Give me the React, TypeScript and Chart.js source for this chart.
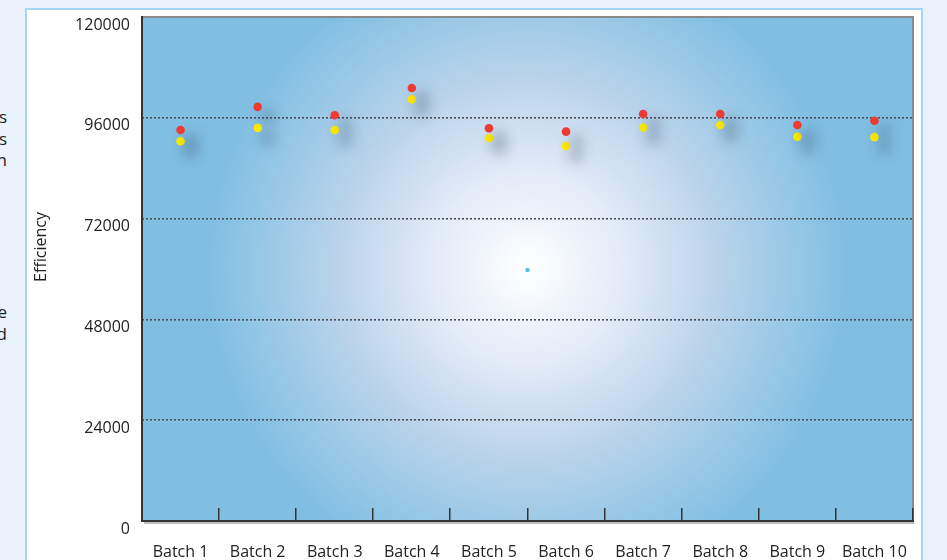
import React, { useEffect, useRef } from "react";
import { Chart, registerables } from "chart.js";

Chart.register(...registerables);

const categories = ["Batch 1", "Batch 2", "Batch 3", "Batch 4", "Batch 5", "Batch 6", "Batch 7", "Batch 8", "Batch 9", "Batch 10"];
const redSeries = [93100, 98600, 96600, 103100, 93500, 92700, 96900, 96900, 94300, 95300];
const yellowSeries = [90400, 93600, 93100, 100400, 91200, 89300, 93700, 94300, 91500, 91400];
const yTickValues = [0, 24000, 48000, 72000, 96000, 120000];
const yTitle = "Efficiency";
const sideTextTop = ["s", "s", "n"];
const sideTextBottom = ["e", "d"];

const FONT = "'Open Sans', 'Noto Sans', sans-serif";

const backgroundPlugin = {
  id: "radialBg",
  beforeDraw(chart: any) {
    const { ctx, chartArea } = chart;
    const { left, top, right, bottom } = chartArea;
    const cx = (left + right) / 2;
    const cy = (top + bottom) / 2;
    const g = ctx.createRadialGradient(cx, cy, 0, cx, cy, 320);
    g.addColorStop(0, "#ffffff");
    g.addColorStop(0.3, "#e2ebf7");
    g.addColorStop(0.6, "#b9d3eb");
    g.addColorStop(1, "#80bfe2");
    ctx.save();
    ctx.fillStyle = g;
    ctx.fillRect(left, top, right - left, bottom - top);
    // small marker at centre
    ctx.fillStyle = "#5cb8ea";
    ctx.beginPath();
    ctx.arc(cx, cy + 1, 2.2, 0, Math.PI * 2);
    ctx.fill();
    ctx.restore();
  },
  beforeDatasetsDraw(chart: any) {
    const { ctx, chartArea, scales } = chart;
    const { left, top, right, bottom } = chartArea;
    const x = scales.x;
    ctx.save();
    // y axis title
    ctx.save();
    ctx.translate(41, (top + bottom) / 2 - 22);
    ctx.rotate(-Math.PI / 2);
    ctx.font = `16px ${FONT}`;
    ctx.fillStyle = "#222";
    ctx.textAlign = "center";
    ctx.textBaseline = "middle";
    ctx.fillText(yTitle, 0, 0);
    ctx.restore();
    // bottom shadow
    ctx.strokeStyle = "rgba(0,0,0,0.25)";
    ctx.lineWidth = 2;
    ctx.beginPath();
    ctx.moveTo(left + 2, bottom + 2);
    ctx.lineTo(right + 1, bottom + 2);
    ctx.stroke();
    // top & right frame
    ctx.strokeStyle = "#8a8a8a";
    ctx.lineWidth = 2;
    ctx.beginPath();
    ctx.moveTo(left, top);
    ctx.lineTo(right, top);
    ctx.lineTo(right, bottom);
    ctx.stroke();
    // left & bottom axis
    ctx.strokeStyle = "#333333";
    ctx.beginPath();
    ctx.moveTo(left, top - 1);
    ctx.lineTo(left, bottom);
    ctx.lineTo(right + 1, bottom);
    ctx.stroke();
    // inward category ticks
    ctx.lineWidth = 1.5;
    const n = categories.length;
    for (let i = 1; i <= n; i++) {
      const p0 = x.getPixelForTick(i - 1);
      const half = i < n ? (x.getPixelForTick(i) - p0) / 2 : (x.getPixelForTick(i - 1) - x.getPixelForTick(i - 2)) / 2;
      const px = Math.round(p0 + half) - 0.25;
      ctx.beginPath();
      ctx.moveTo(px, bottom - 13);
      ctx.lineTo(px, bottom);
      ctx.stroke();
    }
    ctx.restore();
    // shadow for the points
    ctx.save();
    ctx.shadowColor = "rgba(30,45,70,0.7)";
    ctx.shadowBlur = 14;
    ctx.shadowOffsetX = 10;
    ctx.shadowOffsetY = 10;
  },
  afterDatasetsDraw(chart: any) {
    chart.ctx.restore();
  },
};

export default function App() {
  const canvasRef = useRef<HTMLCanvasElement | null>(null);

  useEffect(() => {
    const canvas = canvasRef.current;
    if (!canvas) return;
    const chart = new Chart(canvas, {
      type: "line",
      data: {
        labels: categories,
        datasets: [
          {
            label: "Red",
            data: redSeries,
            showLine: false,
            pointRadius: 4.3,
            pointHoverRadius: 4.3,
            pointBorderWidth: 0,
            backgroundColor: "#ef3a34",
            borderColor: "#ef3a34",
          },
          {
            label: "Yellow",
            data: yellowSeries,
            showLine: false,
            pointRadius: 4.3,
            pointHoverRadius: 4.3,
            pointBorderWidth: 0,
            backgroundColor: "#ffec00",
            borderColor: "#ffec00",
          },
        ],
      },
      options: {
        responsive: false,
        animation: false,
        devicePixelRatio: 1,
        layout: { padding: { left: 0, right: 34, top: 17, bottom: 0 } },
        plugins: { legend: { display: false }, tooltip: { enabled: false } },
        scales: {
          x: {
            type: "category",
            offset: true,
            grid: { display: false, drawTicks: false },
            border: { display: false },
            ticks: { color: "#222", font: { family: FONT, size: 16 }, padding: 22, maxRotation: 0 },
            afterFit(scale: any) {
              scale.height = 39;
            },
          },
          y: {
            min: 0,
            max: 120000,
            afterBuildTicks(scale: any) {
              scale.ticks = yTickValues.map((v) => ({ value: v }));
            },
            grid: {
              drawTicks: false,
              color: (ctx: any) =>
                ctx.tick && (ctx.tick.value === 0 || ctx.tick.value === 120000) ? "rgba(0,0,0,0)" : "#4a4f57",
              lineWidth: 1.6,
            },
            border: { display: false, dash: [2, 2] },
            ticks: {
              color: "#222",
              font: { family: FONT, size: 16 },
              padding: 12,
              labelOffset: 8,
              callback: (v: any) => String(v),
            },
            afterFit(scale: any) {
              scale.width = 142;
              scale.paddingTop = 0;
              scale.paddingBottom = 0;
            },
          },
        },
      },
      plugins: [backgroundPlugin],
    });
    return () => chart.destroy();
  }, []);

  const sideStyle = (top: number): React.CSSProperties => ({
    position: "absolute",
    right: 947 - 7,
    top,
    width: 40,
    textAlign: "right",
    fontSize: 17,
    lineHeight: "20px",
    color: "#222",
    fontFamily: FONT,
  });

  return (
    <div
      style={{
        position: "fixed",
        left: 0,
        top: 0,
        width: 947,
        height: 560,
        overflow: "hidden",
        background: "#eaf3fb",
        fontFamily: FONT,
      }}
    >
      {sideTextTop.map((t, i) => (
        <div key={"a" + i} style={sideStyle(107 + i * 21.5)}>
          {t}
        </div>
      ))}
      {sideTextBottom.map((t, i) => (
        <div key={"b" + i} style={sideStyle(302 + i * 21.5)}>
          {t}
        </div>
      ))}
      <div
        style={{
          position: "absolute",
          left: 25,
          top: 8,
          width: 898,
          height: 620,
          boxSizing: "border-box",
          background: "#ffffff",
          border: "2px solid #a6d6f3",
        }}
      />
      <canvas
        ref={canvasRef}
        width={947}
        height={560}
        style={{ position: "absolute", left: 0, top: 0, width: 947, height: 560 }}
      />
    </div>
  );
}
